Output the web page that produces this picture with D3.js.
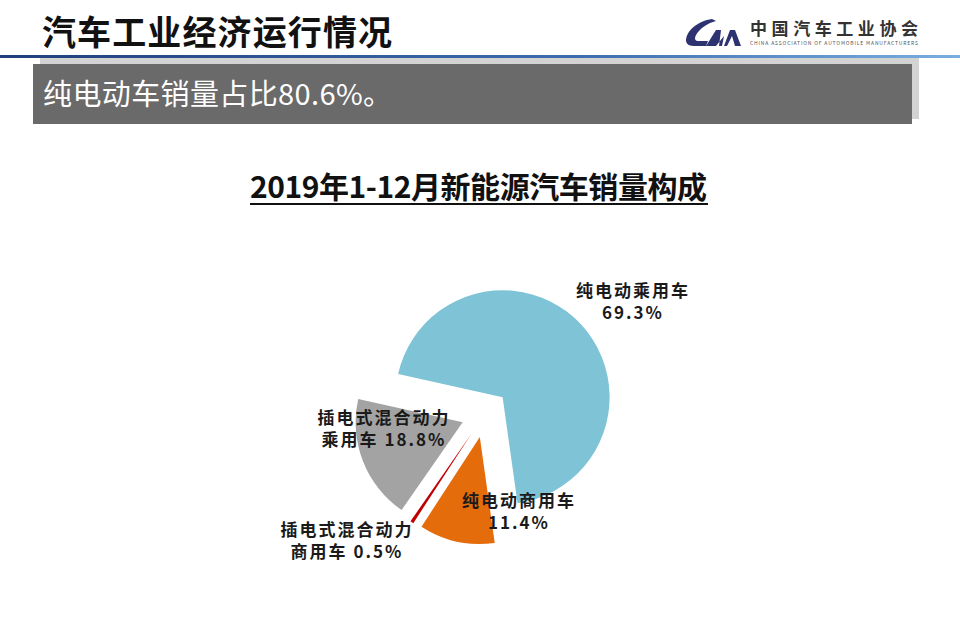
<!DOCTYPE html>
<html>
<head>
<meta charset="utf-8">
<script src="https://cdn.jsdelivr.net/npm/d3@7"></script>
<style>
  body { margin: 0; background: #fff; }
  text { font-family: "Noto Sans CJK SC", "Liberation Sans", sans-serif; }
</style>
</head>
<body>
<script>
// chart data
var categories = ["纯电动乘用车", "纯电动商用车", "插电式混合动力商用车", "插电式混合动力乘用车"];
var shares = [69.3, 11.4, 0.5, 18.8];
var colors = ["#7fc3d6", "#e46c0a", "#c00000", "#a3a3a3"];
var labelLines = [["纯电动乘用车", "69.3%"], ["纯电动商用车", "11.4%"],
                  ["插电式混合动力", "商用车 0.5%"], ["插电式混合动力", "乘用车 18.8%"]];

var width = 960, height = 622;
var svg = d3.select("body").append("svg")
    .attr("width", width)
    .attr("height", height);

var defs = svg.append("defs");
var lg = defs.append("linearGradient").attr("id", "rule").attr("x1", "0").attr("x2", "1");
lg.append("stop").attr("offset", "0").attr("stop-color", "#203f7c");
lg.append("stop").attr("offset", "0.6").attr("stop-color", "#3d6cae");
lg.append("stop").attr("offset", "1").attr("stop-color", "#7aaee0");

// header
svg.append("text")
    .attr("x", 42).attr("y", 45)
    .attr("font-size", 34).attr("font-weight", 700)
    .attr("fill", "#111")
    .attr("textLength", 350)
    .text("汽车工业经济运行情况");

svg.append("rect").attr("x", 0).attr("y", 55).attr("width", width).attr("height", 3)
    .attr("fill", "url(#rule)");

// logo
var logo = svg.append("g").attr("fill", "#2d3270");
logo.append("path").attr("d", "M712,19 C698,21 687,30 686,40 C686,45 690,46 696,46 L706,46 L708,41 L699,41 C695,41 694,39 696,35 C700,28 708,23 716,21 Z");
logo.append("path").attr("d", "M706,46 L716,30 L721,30 L719,46 L724,46 L730,30 L735,30 L741,46 L735,46 L732,36 L727,46 L722,46 L724,36 L716,46 Z");
svg.append("text").attr("x", 750).attr("y", 35)
    .attr("font-size", 17).attr("font-weight", 700).attr("fill", "#333")
    .attr("textLength", 168)
    .text("中国汽车工业协会");
svg.append("text").attr("x", 750).attr("y", 45)
    .attr("font-size", 5).attr("fill", "#555")
    .attr("textLength", 168)
    .text("CHINA ASSOCIATION OF AUTOMOBILE MANUFACTURERS");

// headline box
svg.append("rect").attr("x", 40).attr("y", 58).attr("width", 879).attr("height", 61).attr("fill", "#d3d3d3");
svg.append("rect").attr("x", 33).attr("y", 64).attr("width", 879).attr("height", 60).attr("fill", "#6a6a6a");
svg.append("text")
    .attr("x", 43).attr("y", 105)
    .attr("font-size", 29).attr("fill", "#fff")
    .attr("textLength", 349)
    .text("纯电动车销量占比80.6%。");

// chart title
svg.append("text")
    .attr("x", 250).attr("y", 198)
    .attr("font-size", 30).attr("font-weight", 700)
    .attr("fill", "#111")
    .attr("font-family", "'Liberation Sans', 'Noto Sans CJK SC', sans-serif")
    .attr("textLength", 457)
    .text("2019年1-12月新能源汽车销量构成");
svg.append("line")
    .attr("x1", 250).attr("x2", 708)
    .attr("y1", 204).attr("y2", 204)
    .attr("stroke", "#111").attr("stroke-width", 2);

// pie
var cx = 485, cy = 413.5, radius = 107, explode = 24;
var deg = Math.PI / 180;
var pie = d3.pie().sort(null)
    .startAngle(-77.5 * deg)
    .endAngle(282.5 * deg);
var arc = d3.arc().innerRadius(0).outerRadius(radius);
var arcs = pie(shares);

var pieG = svg.append("g").attr("transform", "translate(" + cx + "," + cy + ")");
pieG.selectAll("path")
    .data(arcs)
    .enter().append("path")
    .attr("d", arc)
    .attr("fill", function(d, i) { return colors[i]; })
    .attr("transform", function(d) {
        var a = (d.startAngle + d.endAngle) / 2;
        return "translate(" + (Math.sin(a) * explode) + "," + (-Math.cos(a) * explode) + ")";
    });

// labels (positions in chart pixels)
var labelPos = [[633, 297], [519, 507], [347, 536], [384, 424]];
labelLines.forEach(function(lines, i) {
    var t = svg.append("text")
        .attr("text-anchor", "middle")
        .attr("font-size", 17).attr("font-weight", 700)
        .attr("fill", "#1a1a1a")
        .attr("letter-spacing", 2);
    lines.forEach(function(s, j) {
        t.append("tspan")
            .attr("x", labelPos[i][0])
            .attr("y", labelPos[i][1] + j * 22)
            .text(s);
    });
});
</script>
</body>
</html>
